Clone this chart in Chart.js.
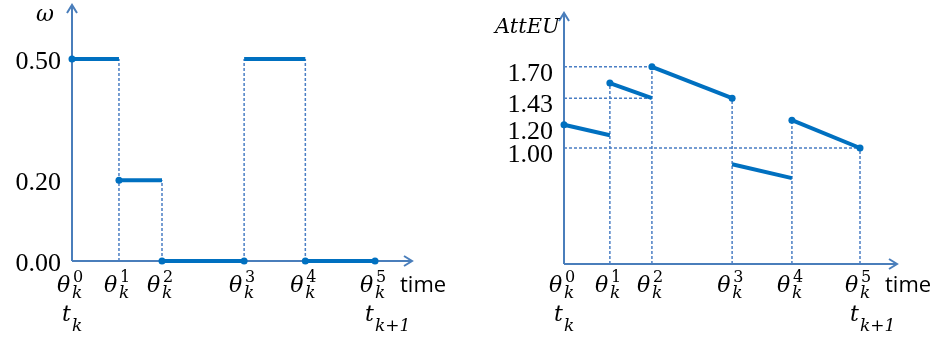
<!DOCTYPE html>
<html>
<head>
<meta charset="utf-8">
<script src="https://cdn.jsdelivr.net/npm/chart.js@4.4.0/dist/chart.umd.min.js"></script>
<style>
    body { margin: 0; background: #fff; width: 932px; height: 341px; overflow: hidden; position: relative; }
    canvas { position: absolute; top: 0; }
    #omega-chart { left: 0; }
    #atteu-chart { left: 466px; }
</style>
</head>
<body>
<canvas id="omega-chart" width="466" height="341"></canvas>
<canvas id="atteu-chart" width="466" height="341"></canvas>
<script>
// switching instants theta_k^0 .. theta_k^5 (fraction of [t_k, t_k+1])
const times = [0, 0.155, 0.297, 0.568, 0.77, 1.0];
const timeSup = ['0', '1', '2', '3', '4', '5'];
const timeSub = ['k', '', '', '', '', 'k+1'];

// omega, constant on each interval
const omegaValues = [0.5, 0.2, 0, 0.5, 0];
const omegaTicks = [0, 0.2, 0.5];

// AttEU at start / end of each interval
const attStart = [1.2, 1.56, 1.70, 0.86, 1.24];
const attEnd = [1.11, 1.43, 1.43, 0.74, 1.00];
const attTicks = [1.00, 1.20, 1.43, 1.70];

// which ends of a segment get a dot
const startDot = [true, true, true, false, true];
const endDot = [false, false, true, false, true];

const LINE = '#0070C0';
const AXIS = '#4A7EBB';
const GUIDE = '#4A7EC4';
const SERIF = '"DejaVu Serif"';

function dashed(points) {
    return {
        data: points, borderColor: GUIDE, borderWidth: 1.5, borderDash: [3, 2],
        pointRadius: 0, order: 2, clip: false
    };
}

// build segments + dashed guide lines from start/end values
function buildDatasets(starts, ends, guideTicks) {
    const ds = [];
    // vertical guides at each switching instant
    for (let i = 1; i < times.length; i++) {
        const after = i < starts.length ? starts[i] : 0;
        const top = Math.max(ends[i - 1], after);
        if (top > 0) ds.push(dashed([{ x: times[i], y: 0 }, { x: times[i], y: top }]));
    }
    // horizontal guides: from the y axis to the first point with that value
    const pts = [];
    starts.forEach((s, i) => { pts.push({ x: times[i], y: s }); pts.push({ x: times[i + 1], y: ends[i] }); });
    guideTicks.forEach(t => {
        const hit = pts.find(p => Math.abs(p.y - t) < 0.005 && p.x > 0);
        if (hit) ds.push(dashed([{ x: 0, y: t }, { x: hit.x, y: t }]));
    });
    // the thick segments
    starts.forEach((s, i) => {
        ds.push({
            data: [{ x: times[i], y: s }, { x: times[i + 1], y: ends[i] }],
            borderColor: LINE, backgroundColor: LINE, borderWidth: 4,
            pointRadius: [startDot[i] ? 3.5 : 0, endDot[i] ? 3.5 : 0],
            pointBackgroundColor: LINE, pointBorderWidth: 0,
            order: 1, clip: false
        });
    });
    return ds;
}

function drawTheta(ctx, x, y, sup) {
    ctx.textAlign = 'left';
    ctx.font = 'italic 22px ' + SERIF;
    ctx.fillText('θ', x - 15, y);
    ctx.font = '16px ' + SERIF;
    ctx.fillText(sup, x + 1, y - 10);
    ctx.font = 'italic 17px ' + SERIF;
    ctx.fillText('k', x, y + 6);
}

function drawT(ctx, x, y, sub) {
    ctx.textAlign = 'left';
    ctx.font = 'italic 22px ' + SERIF;
    ctx.fillText('t', x - 10, y);
    ctx.font = 'italic 17px ' + SERIF;
    ctx.fillText(sub, x, y + 10);
}

function axesPlugin(ticks, labelOffset, drawTitle) {
    return {
        id: 'axes',
        beforeDatasetsDraw(chart) {
            const ctx = chart.ctx, a = chart.chartArea;
            ctx.save();
            ctx.strokeStyle = AXIS;
            ctx.lineWidth = 2;
            ctx.beginPath();
            ctx.moveTo(a.left, a.bottom); ctx.lineTo(a.left, a.top);
            ctx.moveTo(a.left - 5, a.top + 8); ctx.lineTo(a.left, a.top); ctx.lineTo(a.left + 5, a.top + 8);
            ctx.moveTo(a.left, a.bottom); ctx.lineTo(a.right, a.bottom);
            ctx.moveTo(a.right - 8, a.bottom - 5); ctx.lineTo(a.right, a.bottom); ctx.lineTo(a.right - 8, a.bottom + 5);
            ctx.stroke();
            ctx.restore();
        },
        afterDraw(chart) {
            const ctx = chart.ctx, a = chart.chartArea;
            const xs = chart.scales.x, ys = chart.scales.y;
            ctx.save();
            ctx.fillStyle = '#000';
            // y tick labels
            ctx.font = '26px "Liberation Serif"';
            ctx.textAlign = 'right';
            ctx.textBaseline = 'alphabetic';
            ticks.forEach(t => {
                ctx.fillText(t.toFixed(2), a.left - 11, ys.getPixelForValue(t) + labelOffset);
            });
            // x tick labels
            times.forEach((t, i) => {
                const px = xs.getPixelForValue(t);
                drawTheta(ctx, px, 292, timeSup[i]);
                if (timeSub[i]) drawT(ctx, px, 321, timeSub[i]);
            });
            ctx.font = '22px "Open Sans"';
            ctx.textAlign = 'left';
            ctx.fillText('time', a.right - 12, 292);
            drawTitle(ctx, a);
            ctx.restore();
        }
    };
}

function makeChart(id, datasets, xMax, yMax, padding, plugin) {
    return new Chart(document.getElementById(id), {
        type: 'line',
        data: { datasets: datasets },
        options: {
            responsive: false,
            animation: false,
            layout: { padding: padding },
            plugins: { legend: { display: false }, tooltip: { enabled: false } },
            scales: {
                x: { type: 'linear', min: 0, max: xMax, display: false },
                y: { type: 'linear', min: 0, max: yMax, display: false }
            }
        },
        plugins: [plugin]
    });
}

// left chart: omega
makeChart('omega-chart', buildDatasets(omegaValues, omegaValues, []), 1.122, 0.634,
    { left: 72, right: 54, top: 5, bottom: 80 },
    axesPlugin(omegaTicks, 10, (ctx) => {
        ctx.font = 'italic 22px ' + SERIF;
        ctx.textAlign = 'center';
        ctx.fillText('ω', 45, 21);
    }));

// right chart: AttEU
makeChart('atteu-chart', buildDatasets(attStart, attEnd, attTicks), 1.125, 2.164,
    { left: 98, right: 35, top: 13, bottom: 77 },
    axesPlugin(attTicks, 14, (ctx) => {
        ctx.font = 'italic 21px ' + SERIF;
        ctx.textAlign = 'left';
        ctx.fillText('AttEU', 29, 33);
    }));
</script>
</body>
</html>
